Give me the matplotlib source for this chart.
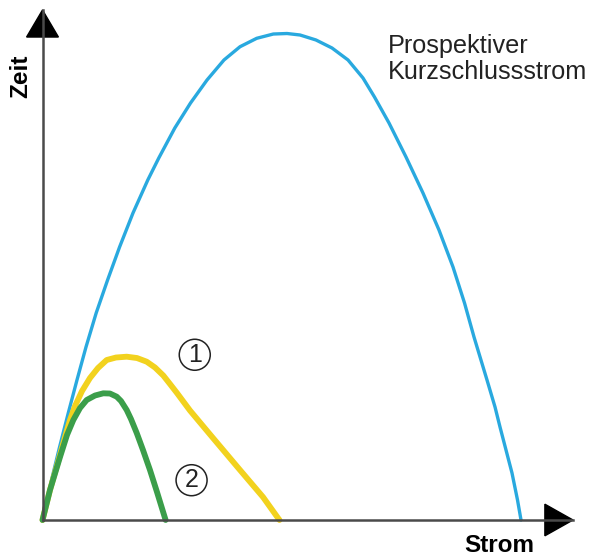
import matplotlib
matplotlib.use("Agg")
import matplotlib.pyplot as plt

# =========================
# DATEN (relative Einheiten, Ursprung = 0/0)
# =========================

strom_prosp = [0, 1.70, 3.22, 4.86, 6.50, 8.20, 10.12, 12.27, 14.53, 17.06,
               19.85, 21.92, 24.94, 27.90, 31.01, 34.21, 37.23, 40.38, 43.51,
               46.09, 48.54, 51.55, 54.57, 57.59, 60.41, 62.58, 65.32, 68.52,
               71.72, 74.74, 77.38, 79.55, 81.34, 83.79, 85.30, 86.24, 87.37,
               88.50, 89.54, 90.20]
zeit_prosp = [0, 7.84, 14.31, 20.98, 27.45, 33.92, 40.59, 47.06, 53.53, 60.20,
              66.67, 70.98, 76.86, 81.76, 86.27, 90.20, 92.80, 94.45, 95.29,
              95.39, 95.10, 94.12, 92.55, 90.20, 86.67, 82.94, 77.84, 71.18,
              64.12, 56.86, 49.61, 42.55, 35.88, 27.45, 22.16, 18.24, 13.73,
              9.22, 3.92, 0]

strom_1 = [0, 1.41, 2.92, 4.24, 5.18, 6.13, 7.45, 8.95, 10.46, 12.10, 13.85,
           15.87, 17.81, 19.64, 21.21, 22.77, 24.03, 25.35, 27.80, 32.14,
           37.23, 41.56, 44.39, 44.67]
zeit_1 = [0, 5.88, 11.37, 16.27, 19.61, 22.35, 25.29, 27.84, 29.80, 31.37,
          31.86, 32.02, 31.76, 31.04, 29.90, 28.33, 26.67, 24.90, 21.47, 16.08,
          9.80, 4.51, 0.39, 0]

strom_2 = [0, 1.41, 3.30, 4.62, 5.81, 7.07, 8.33, 9.90, 11.46, 12.72, 13.99,
           14.80, 15.87, 16.68, 17.76, 18.94, 20.26, 21.58, 23.09, 23.21]
zeit_2 = [0, 5.88, 12.35, 16.67, 19.61, 21.96, 23.53, 24.41, 24.84, 24.80,
          24.18, 23.33, 21.57, 19.80, 17.06, 13.73, 9.80, 5.49, 0.39, 0]

BLAU = "#29a9df"
GELB = "#f2d21e"
GRUEN = "#3b9e4a"
ACHSE = "#4a4a4a"
TEXT = "#222222"

plt.rcParams["font.family"] = ["Liberation Sans", "DejaVu Sans"]

# =========================
# PLOT
# =========================

fig = plt.figure(figsize=(5.95, 5.56), dpi=100)
ax = fig.add_axes([42.5 / 595, 36 / 556, (573 - 42.5) / 595, 510 / 556])

ax.plot(strom_prosp, zeit_prosp, color=BLAU, lw=2.4,
        solid_capstyle="round", solid_joinstyle="round", clip_on=False)
ax.plot(strom_1, zeit_1, color=GELB, lw=4.2,
        solid_capstyle="round", solid_joinstyle="round", clip_on=False)
ax.plot(strom_2, zeit_2, color=GRUEN, lw=4.2,
        solid_capstyle="round", solid_joinstyle="round", clip_on=False)

ax.set_xlim(0, 100)
ax.set_ylim(0, 100)

for s in ["top", "right"]:
    ax.spines[s].set_visible(False)
for s in ["left", "bottom"]:
    ax.spines[s].set_color(ACHSE)
    ax.spines[s].set_linewidth(1.8)
ax.set_xticks([])
ax.set_yticks([])

# Pfeilspitzen
ax.fill([-3.0, 3.0, 0], [94.7, 94.7, 100], color="black", clip_on=False)
ax.fill([94.7, 94.7, 100], [-3.1, 3.1, 0], color="black", clip_on=False)

# Beschriftungen
ax.text(-4.1, 87.0, "Zeit", rotation=90, fontsize=17.5, fontweight="bold",
        ha="center", va="center", clip_on=False)
ax.text(86.1, -6.3, "Strom", fontsize=17.5, fontweight="bold",
        ha="center", va="baseline", clip_on=False)

ax.text(65.1, 91.6, "Prospektiver", fontsize=18.2, color=TEXT,
        ha="left", va="baseline")
ax.text(65.1, 86.4, "Kurzschlussstrom", fontsize=18.2, color=TEXT,
        ha="left", va="baseline")

for x, y, t in [(28.7, 32.4, "1"), (28.1, 7.8, "2")]:
    ax.text(x, y, t, fontsize=18, color=TEXT, ha="center", va="center",
            bbox=dict(boxstyle="circle,pad=0.14", fc="none", ec=TEXT,
                      lw=1.1))

fig.savefig("out.png", dpi=100)
